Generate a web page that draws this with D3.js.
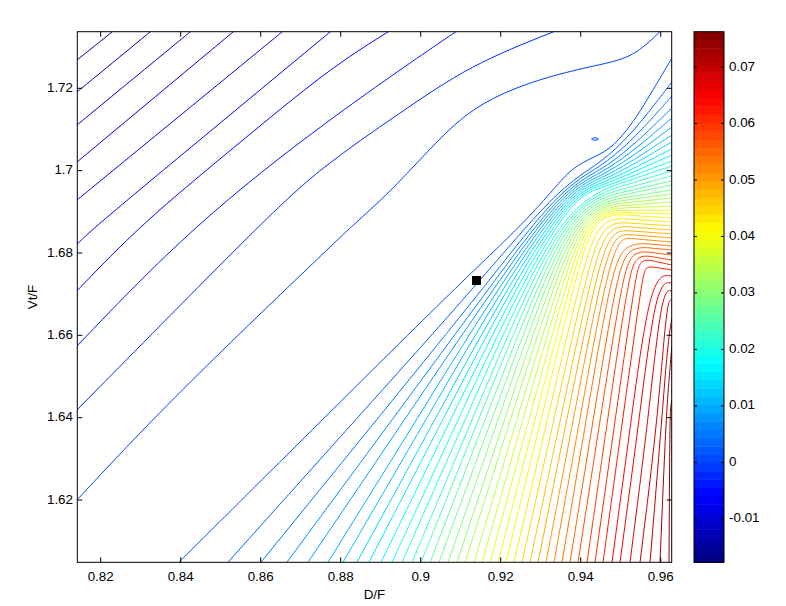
<!DOCTYPE html>
<html><head><meta charset="utf-8">
<script src="https://cdn.jsdelivr.net/npm/d3@7"></script>
<style>body{margin:0;background:#fff}text{font-family:"Liberation Sans",Arial,sans-serif;fill:#000}</style>
</head><body><svg id="chart" width="786" height="606"></svg>
<script>
// ================= data =================
// contour levels: evenly spaced between the colour limits
const zMin = -0.0177, zMax = 0.07626, levelCount = 53;
const xTicks = [0.82,0.84,0.86,0.88,0.90,0.92,0.94,0.96];
const yTicks = [1.62,1.64,1.66,1.68,1.70,1.72];
const cTicks = [-0.01,0,0.01,0.02,0.03,0.04,0.05,0.06,0.07];
const markerPts = [{x:0.91395, y:1.67332}];
const xLabel = "D/F", yLabel = "Vt/F";

// levels 1..10 : contours in the upper-left part, [D/F, Vt/F] points
const upperLeftLines = [
 [[0.80983,1.72357],[0.81408,1.72687],[0.82283,1.73368],[0.82733,1.73717]],
 [[0.80983,1.71573],[0.81408,1.7191],[0.83233,1.73368],[0.83733,1.73766]],
 [[0.80983,1.70769],[0.81408,1.71109],[0.84233,1.73368],[0.84733,1.73768]],
 [[0.80983,1.69865],[0.81408,1.7021],[0.85308,1.73368],[0.85808,1.73773]],
 [[0.80983,1.68949],[0.81408,1.69287],[0.83983,1.71337],[0.86533,1.73368],[0.87033,1.73766]],
 [[0.80983,1.67788],[0.81408,1.68218],[0.81908,1.6868],[0.84808,1.71012],[0.87733,1.73368],[0.88233,1.73766]],
 [[0.80983,1.66664],[0.81408,1.67077],[0.82983,1.6868],[0.85358,1.70586],[0.87733,1.72493],[0.89183,1.73368],[0.89733,1.73708]],
 [[0.80983,1.65318],[0.81408,1.65741],[0.84308,1.6868],[0.87733,1.71279],[0.90858,1.73368],[0.91358,1.73683]],
 [[0.80983,1.63773],[0.81408,1.64186],[0.86033,1.68752],[0.87483,1.70064],[0.89483,1.714],[0.91233,1.72566],[0.93308,1.73368],[0.94183,1.73708]],
 [[0.80983,1.61563],[0.81408,1.62],[0.83733,1.64429],[0.87733,1.68145],[0.88308,1.6868],[0.89158,1.69408],[0.90158,1.70453],[0.91058,1.71352],[0.92058,1.7191],[0.93308,1.72323],[0.94558,1.7259],[0.95308,1.7276],[0.95983,1.73368],[0.96183,1.73586]]
];
// level 11 : outer line of the fan
const outerFanLine = [[0.83958,1.6049],[0.87593,1.64],[0.91058,1.6734],[0.92483,1.68631],[0.93308,1.6953],[0.93733,1.70016],[0.94158,1.70259],[0.94733,1.70501],[0.95158,1.70987],[0.95483,1.71424],[0.9628,1.72736]];
// small closed level-11 contour in the valley
const islandLine = [[0.9427,1.70769],[0.94358,1.70799],[0.94445,1.70769],[0.94358,1.70739]];

// levels 12..53 : fan contours, crossing tables
const fanXBottom = [0.85183,0.86008,0.86658,0.87183,0.87683,0.88058,0.88408,0.88708,0.89008,0.89283,0.89533,0.89783,0.90008,0.90233,0.90458,0.90683,0.90908,0.91108,0.91333,0.91533,0.91733,0.91933,0.92133,0.92333,0.92533,0.92733,0.92933,0.93133,0.93333,0.93533,0.93733,0.93933,0.94158,0.94358,0.94558,0.94783,0.94983,0.95233,0.95483,0.95733,0.95983,0.96208]; // at Vt/F = 1.6049
const fanX164 = [0.8842,0.8894,0.89323,0.89628,0.89925,0.90158,0.90378,0.90578,0.90773,0.9096,0.91133,0.91305,0.91465,0.9163,0.9179,0.9195,0.9211,0.9226,0.9242,0.92568,0.92718,0.92868,0.93018,0.93178,0.93338,0.93503,0.93663,0.93823,0.93985,0.94145,0.9432,0.94495,0.9468,0.9487,0.95055,0.9527,0.9547,0.95695,0.9593,0.96033,0.96133,0.96228]; // at Vt/F = 1.64
const fanX1673 = [0.91508,0.91733,0.91858,0.91958,0.92058,0.92158,0.92258,0.92358,0.92458,0.92558,0.92658,0.92758,0.92858,0.92958,0.93058,0.93158,0.93258,0.93358,0.93458,0.93558,0.93658,0.93758,0.93858,0.93983,0.94108,0.94233,0.94358,0.94483,0.94608,0.94733,0.94883,0.95033,0.95183,0.95358,0.95533,null,null,null,null,null,null,null]; // at Vt/F = 1.6734
const fanElbowX = [0.93483,0.9352,0.9356,0.93598,0.93638,0.93675,0.93715,0.93753,0.93793,0.9383,0.9387,0.93908,0.93945,0.93985,0.94023,0.94063,0.941,0.9414,0.94178,0.94218,0.94255,0.94295,0.94333,0.94438,0.94543,0.94645,0.9475,0.94855,0.9496,0.95065,0.9517,0.95273,0.95378,0.95483,0.95618,0.95753,0.95888,0.96023,0.96158,0.9617,0.96208,0.96253];
const fanElbowY = [1.69627,1.69598,1.69566,1.69537,1.69508,1.69479,1.69447,1.69418,1.69389,1.6936,1.69328,1.69299,1.6927,1.69241,1.69209,1.6918,1.69151,1.69122,1.6909,1.69061,1.69032,1.69,1.68971,1.68872,1.68772,1.68672,1.68573,1.68473,1.68376,1.68276,1.68177,1.68077,1.67978,1.67878,1.67689,1.67499,1.6731,1.6712,1.66931,1.65765,1.64915,1.64308];
const fanY945 = [1.70169,1.70079,1.69999,1.69928,1.69863,1.698,1.69741,1.69685,1.69632,1.69578,null,null,null,null,null,null,null,null,null,null,null,null,null,null,null,null,null,null,null,null,null,null,null,null,null,null,null,null,null,null,null,null]; // at D/F = 0.945
const fanY9525 = [1.7088,1.7071,1.70559,1.70431,1.70315,1.7021,1.70113,1.70018,1.69933,1.69848,1.69773,1.69688,1.69601,1.69518,1.69447,1.69365,1.69297,1.69231,1.69166,1.691,1.69037,1.68976,1.68915,1.68821,1.68726,1.68631,1.68536,1.68444,1.68354,null,null,null,null,null,null,null,null,null,null,null,null,null]; // at D/F = 0.9525
const fanY9585 = [1.71607,1.71342,1.71114,1.70922,1.70749,1.70594,1.70455,1.70317,1.70198,1.70079,1.69977,1.6987,1.69763,1.69656,1.69569,1.69464,1.69379,1.69294,1.69209,1.69124,1.69042,1.68959,1.68876,1.68779,1.68685,1.68587,1.68493,1.68396,1.68301,1.68206,1.68111,1.68004,1.67898,1.67798,1.67652,null,null,null,null,null,null,null]; // at D/F = 0.9585
const fanYEdge = [1.72153,1.71813,1.71522,1.71279,1.7106,1.70866,1.70696,1.70526,1.7038,1.70234,1.70113,1.69991,1.6987,1.69748,1.69651,1.6953,1.69433,1.69336,1.69238,1.69141,1.69044,1.68947,1.6885,1.68752,1.68655,1.68558,1.68461,1.68364,1.68267,1.6817,1.68072,1.67951,1.6783,1.67708,1.67587,1.67441,1.67271,1.67077,1.66834,1.66421,1.65765,1.64429]; // at D/F = 0.9628 (right edge)

// ================= layout =================
const plot = {x0:77.3, x1:671.7, y0:31.7, y1:562.3};
const cbar = {x0:694, x1:724};
const svg = d3.select("#chart");
const x = d3.scaleLinear().domain([0.81415,0.96275]).range([plot.x0, plot.x1]);
const y = d3.scaleLinear().domain([1.60487,1.73375]).range([plot.y1, plot.y0]);
const cScale = d3.scaleLinear().domain([zMin, zMax]).range([plot.y1, plot.y0]);
const fmt = v => String(+v.toFixed(3));
function jet(t){t=Math.max(0,Math.min(1,t));const f=v=>Math.round(255*Math.max(0,Math.min(1,v)));
  return `rgb(${f(1.5-Math.abs(4*t-3))},${f(1.5-Math.abs(4*t-2))},${f(1.5-Math.abs(4*t-1))})`;}
const levels = d3.range(1, levelCount+1).map(k => zMin + k*(zMax-zMin)/(levelCount+1));
const colorOf = v => jet((v - zMin)/(zMax - zMin));

// assemble contour lines
const lines = [];
upperLeftLines.forEach((pts,i)=>lines.push({level:levels[i], pts}));
lines.push({level:levels[10], pts:outerFanLine});
fanXBottom.forEach((xb,i)=>{
  const pts = [[xb,1.6049],[fanX164[i],1.64]];
  if (fanX1673[i]!==null) pts.push([fanX1673[i],1.6734]);
  pts.push([fanElbowX[i], fanElbowY[i]]);
  if (fanY945[i]!==null) pts.push([0.945, fanY945[i]]);
  if (fanY9525[i]!==null) pts.push([0.9525, fanY9525[i]]);
  if (fanY9585[i]!==null) pts.push([0.9585, fanY9585[i]]);
  pts.push([0.9628, fanYEdge[i]]);
  lines.push({level:levels[11+i], pts});
});

svg.append("defs").append("clipPath").attr("id","clip").append("rect")
  .attr("x",plot.x0).attr("y",plot.y0).attr("width",plot.x1-plot.x0).attr("height",plot.y1-plot.y0);
const lineGen = d3.line().x(d=>x(d[0])).y(d=>y(d[1])).curve(d3.curveBasis);
const gl = svg.append("g").attr("clip-path","url(#clip)");
gl.selectAll("path.c").data(lines).join("path").attr("class","c")
  .attr("d",d=>lineGen(d.pts)).attr("fill","none").attr("stroke",d=>colorOf(d.level)).attr("stroke-width",1);
gl.append("path").datum(islandLine)
  .attr("d",d3.line().x(d=>x(d[0])).y(d=>y(d[1])).curve(d3.curveCatmullRomClosed))
  .attr("fill","none").attr("stroke",colorOf(levels[10])).attr("stroke-width",1);

// marker
svg.selectAll("rect.mk").data(markerPts).join("rect").attr("class","mk")
  .attr("x",d=>x(d.x)-4.5).attr("y",d=>y(d.y)-4.5).attr("width",9).attr("height",9).attr("fill","#000");

// axes frame + ticks
const ax = svg.append("g").attr("stroke","#000").attr("stroke-width",1).attr("fill","none");
ax.append("rect").attr("x",plot.x0).attr("y",plot.y0).attr("width",plot.x1-plot.x0).attr("height",plot.y1-plot.y0);
xTicks.forEach(t=>{const px=x(t);
  ax.append("line").attr("x1",px).attr("x2",px).attr("y1",plot.y1).attr("y2",plot.y1-5);
  ax.append("line").attr("x1",px).attr("x2",px).attr("y1",plot.y0).attr("y2",plot.y0+5);});
yTicks.forEach(t=>{const py=y(t);
  ax.append("line").attr("x1",plot.x0).attr("x2",plot.x0+5).attr("y1",py).attr("y2",py);
  ax.append("line").attr("x1",plot.x1).attr("x2",plot.x1-5).attr("y1",py).attr("y2",py);});
svg.selectAll("text.xt").data(xTicks).join("text").attr("class","xt")
  .attr("x",d=>x(d)).attr("y",577).attr("text-anchor","middle").attr("dominant-baseline","middle")
  .attr("font-size",13.4).text(fmt);
svg.selectAll("text.yt").data(yTicks).join("text").attr("class","yt")
  .attr("x",73).attr("y",d=>y(d)).attr("text-anchor","end").attr("dominant-baseline","middle")
  .attr("font-size",13.4).text(fmt);
svg.append("text").attr("x",(plot.x0+plot.x1)/2).attr("y",595).attr("text-anchor","middle")
  .attr("dominant-baseline","middle").attr("font-size",13.4).text(xLabel);
svg.append("text").attr("transform",`translate(33,${(plot.y0+plot.y1)/2}) rotate(-90)`)
  .attr("text-anchor","middle").attr("dominant-baseline","middle").attr("font-size",13.4).text(yLabel);

// colorbar
const nBands = 64, cb = svg.append("g");
d3.range(nBands).forEach(i=>{
  const v0 = zMin + i*(zMax-zMin)/nBands, v1 = zMin + (i+1)*(zMax-zMin)/nBands;
  cb.append("rect").attr("x",cbar.x0).attr("width",cbar.x1-cbar.x0)
    .attr("y",cScale(v1)).attr("height",cScale(v0)-cScale(v1)+0.5).attr("fill",jet((i+0.5)/nBands));});
const cax = svg.append("g").attr("stroke","#000").attr("fill","none");
cax.append("rect").attr("x",cbar.x0).attr("y",plot.y0).attr("width",cbar.x1-cbar.x0).attr("height",plot.y1-plot.y0);
cTicks.forEach(t=>{const py=cScale(t);
  cax.append("line").attr("x1",cbar.x0).attr("x2",cbar.x0+3).attr("y1",py).attr("y2",py);
  cax.append("line").attr("x1",cbar.x1).attr("x2",cbar.x1-3).attr("y1",py).attr("y2",py);});
svg.selectAll("text.ct").data(cTicks).join("text").attr("class","ct")
  .attr("x",729).attr("y",d=>cScale(d)).attr("dominant-baseline","middle")
  .attr("font-size",13.4).text(fmt);
</script></body></html>
